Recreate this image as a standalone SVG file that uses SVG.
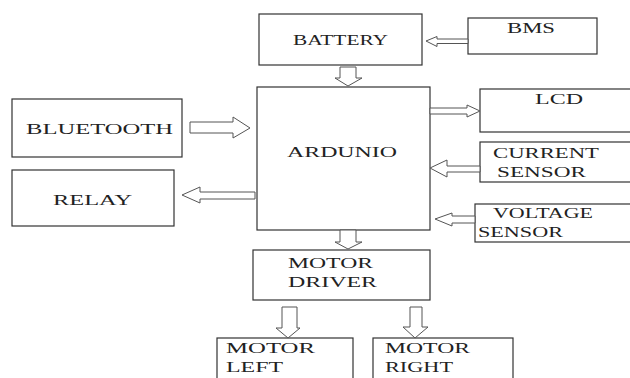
<svg xmlns="http://www.w3.org/2000/svg" width="630" height="378" viewBox="0 0 630 378">
<style>
.box{fill:#fff;stroke:#333;stroke-width:1.2}
.arr{fill:#fff;stroke:#555;stroke-width:1}
text{font-family:"Liberation Serif","Times New Roman",serif;font-size:14px;fill:#222}
</style>
<rect width="630" height="378" fill="#fff"/>
<g id="battery"><rect class="box" x="259" y="14" width="163" height="51"/><text x="293" y="45" textLength="95" lengthAdjust="spacingAndGlyphs">BATTERY</text></g>
<g id="bms"><rect class="box" x="468" y="18" width="129" height="36"/><text x="507" y="33" textLength="48" lengthAdjust="spacingAndGlyphs">BMS</text></g>
<g id="bluetooth"><rect class="box" x="12" y="99" width="170" height="58"/><text x="26" y="134" textLength="147" lengthAdjust="spacingAndGlyphs">BLUETOOTH</text></g>
<g id="relay"><rect class="box" x="12" y="170" width="162" height="56"/><text x="53" y="205" textLength="79" lengthAdjust="spacingAndGlyphs">RELAY</text></g>
<g id="ardunio"><rect class="box" x="257" y="87" width="173" height="143"/><text x="287" y="157" textLength="110" lengthAdjust="spacingAndGlyphs">ARDUNIO</text></g>
<g id="lcd"><rect class="box" x="480" y="89" width="160" height="43"/><text x="535" y="104" textLength="48" lengthAdjust="spacingAndGlyphs">LCD</text></g>
<g id="current"><rect class="box" x="480" y="142" width="160" height="40"/><text x="493" y="158" textLength="106" lengthAdjust="spacingAndGlyphs">CURRENT</text><text x="497" y="177" textLength="89" lengthAdjust="spacingAndGlyphs">SENSOR</text></g>
<g id="voltage"><rect class="box" x="475" y="204" width="165" height="38"/><text x="493" y="218" textLength="100" lengthAdjust="spacingAndGlyphs">VOLTAGE</text><text x="478" y="237" textLength="85" lengthAdjust="spacingAndGlyphs">SENSOR</text></g>
<g id="motordriver"><rect class="box" x="253" y="250" width="177" height="50"/><text x="288" y="268" textLength="85" lengthAdjust="spacingAndGlyphs">MOTOR</text><text x="288" y="287" textLength="89" lengthAdjust="spacingAndGlyphs">DRIVER</text></g>
<g id="motorleft"><rect class="box" x="217" y="338" width="136" height="50"/><text x="226" y="353" textLength="89" lengthAdjust="spacingAndGlyphs">MOTOR</text><text x="226" y="372" textLength="57" lengthAdjust="spacingAndGlyphs">LEFT</text></g>
<g id="motorright"><rect class="box" x="373" y="338" width="140" height="50"/><text x="385" y="353" textLength="85" lengthAdjust="spacingAndGlyphs">MOTOR</text><text x="385" y="372" textLength="68" lengthAdjust="spacingAndGlyphs">RIGHT</text></g>
<g id="connectors">
<polygon class="arr" points="468,39 437,39 437,36.5 426,41 437,46.5 437,43.5 468,43.5"/>
<polygon class="arr" points="340,67 356,67 356,78 362,78 348,86 335,78 340,78"/>
<polygon class="arr" points="190,122 233,122 233,117 250,128 233,138 233,133 190,133"/>
<polygon class="arr" points="255,192 200,192 200,187 182,195 200,203 200,199 255,199"/>
<polygon class="arr" points="430,108 467,108 467,105 480,111 467,117 467,114 430,114"/>
<polygon class="arr" points="480,166 447,166 447,160 430,168 447,177 447,172 480,172"/>
<polygon class="arr" points="475,216 452,216 452,213 435,219 452,226 452,223 475,223"/>
<polygon class="arr" points="340,230 356,230 356,242 362,242 348,249 335,242 340,242"/>
<polygon class="arr" points="282,307 297,307 297,328 300,328 288,338 276,328 282,328"/>
<polygon class="arr" points="410,307 422,307 422,327 428,327 415,338 403,327 410,327"/>
</g>
</svg>
